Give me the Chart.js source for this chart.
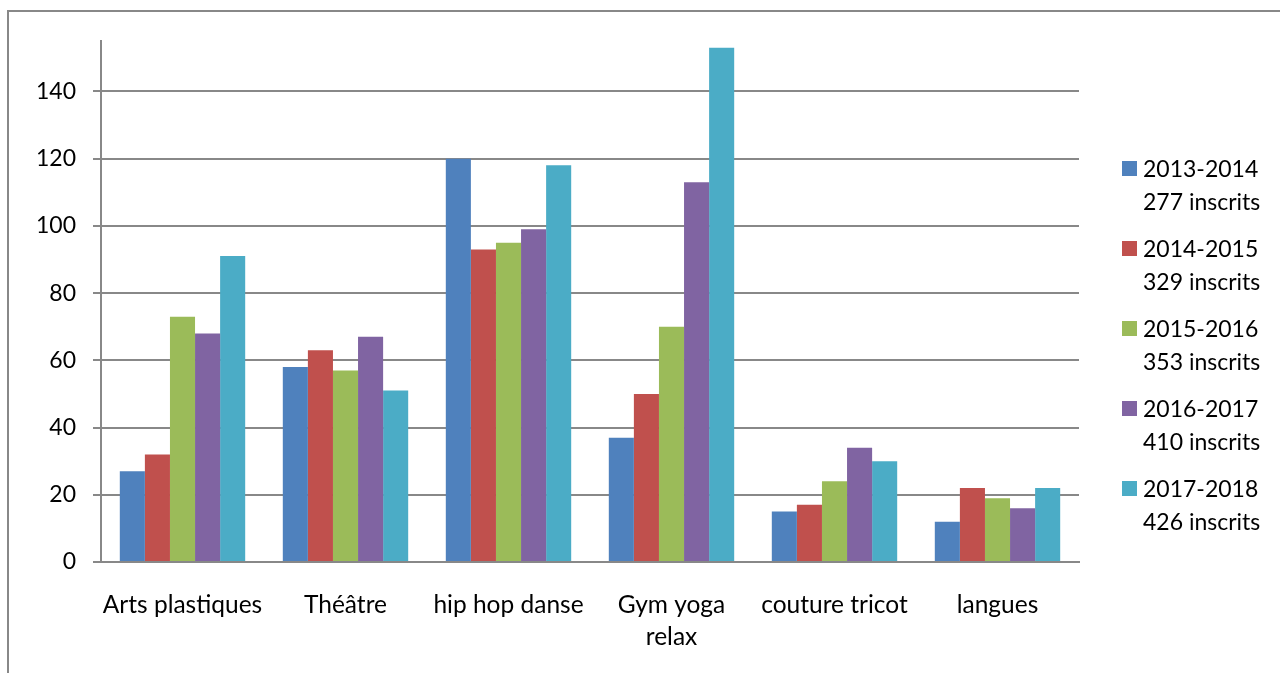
<!DOCTYPE html>
<html>
<head>
<meta charset="utf-8">
<script src="https://cdn.jsdelivr.net/npm/chart.js@4"></script>
<style>
  html, body { margin: 0; padding: 0; background: #fff; }
  #wrap { position: relative; width: 1280px; height: 673px; }
</style>
</head>
<body>
<div id="wrap"><canvas id="c" width="1280" height="673"></canvas></div>
<script>
const categories = ['Arts plastiques', 'Théâtre', 'hip hop danse', ['Gym yoga', 'relax'], 'couture tricot', 'langues'];
const seasons = ['2013-2014', '2014-2015', '2015-2016', '2016-2017', '2017-2018'];
const totals = ['277 inscrits', '329 inscrits', '353 inscrits', '410 inscrits', '426 inscrits'];
const v2013 = [27, 58, 120, 37, 15, 12];
const v2014 = [32, 63, 93, 50, 17, 22];
const v2015 = [73, 57, 95, 70, 24, 19];
const v2016 = [68, 67, 99, 113, 34, 16];
const v2017 = [91, 51, 118, 153, 30, 22];
const yTicks = [0, 20, 40, 60, 80, 100, 120, 140];
const colors = ['#4F81BD', '#C0504D', '#9BBB59', '#8064A2', '#4BACC6'];

const FONT = 'Lato, "Open Sans", sans-serif';
const FSIZE = 23;
const XSIZE = 24.5;
const GRID = '#888888';

const seriesValues = [v2013, v2014, v2015, v2016, v2017];

const framePlugin = {
  id: 'frame',
  beforeDraw(chart) {
    const ctx = chart.ctx;
    ctx.save();
    ctx.strokeStyle = GRID;
    ctx.lineWidth = 2;
    ctx.beginPath();
    ctx.moveTo(8, 673);
    ctx.lineTo(8, 11);
    ctx.lineTo(1280, 11);
    ctx.stroke();
    ctx.restore();
  }
};

const legendPlugin = {
  id: 'sideLegend',
  afterDraw(chart) {
    const ctx = chart.ctx;
    ctx.save();
    ctx.font = FSIZE + 'px ' + FONT;
    ctx.textBaseline = 'alphabetic';
    ctx.textAlign = 'left';
    chart.data.datasets.forEach((ds, i) => {
      const base = 177 + i * 80;
      ctx.fillStyle = ds.backgroundColor;
      ctx.fillRect(1122, base - 16, 15, 15);
      ctx.fillStyle = '#000';
      ctx.fillText(ds.label, 1143, base);
      ctx.fillText(totals[i], 1143, base + 33);
    });
    ctx.restore();
  }
};

new Chart(document.getElementById('c'), {
  type: 'bar',
  data: {
    labels: categories,
    datasets: seriesValues.map((vals, i) => ({
      label: seasons[i],
      data: vals,
      backgroundColor: colors[i],
      borderWidth: 0,
      categoryPercentage: 5 / 6.5,
      barPercentage: 1
    }))
  },
  options: {
    responsive: false,
    animation: false,
    devicePixelRatio: 1,
    layout: { padding: { left: 0, top: 41, right: 201, bottom: 0 } },
    plugins: {
      legend: { display: false },
      tooltip: { enabled: false }
    },
    scales: {
      x: {
        grid: { display: false },
        border: { display: true, color: GRID, width: 2 },
        ticks: {
          color: '#000',
          font: { family: FONT, size: XSIZE, lineHeight: 1.3 },
          padding: 19,
          maxRotation: 0,
          autoSkip: false
        },
        afterFit(scale) { scale.height = 111; }
      },
      y: {
        min: 0,
        max: 155,
        afterBuildTicks(scale) {
          scale.ticks = yTicks.map(v => ({ value: v }));
        },
        grid: { color: GRID, lineWidth: 2, tickLength: 8 },
        border: { display: true, color: GRID, width: 2 },
        ticks: {
          color: '#000',
          font: { family: FONT, size: FSIZE },
          padding: 17
        },
        afterFit(scale) { scale.width = 101; }
      }
    }
  },
  plugins: [framePlugin, legendPlugin]
});
</script>
</body>
</html>
